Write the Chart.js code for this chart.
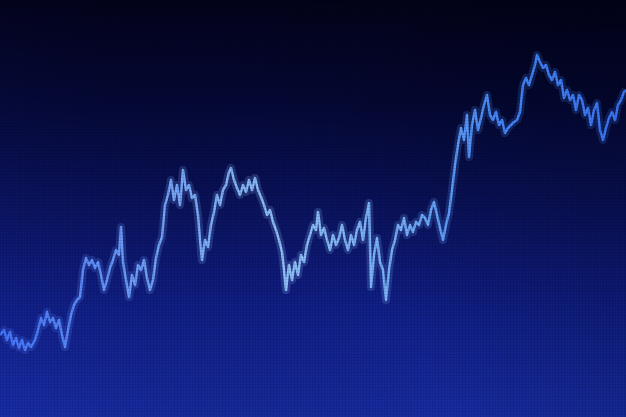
<!DOCTYPE html>
<html>
<head>
<meta charset="utf-8">
<script src="https://cdn.jsdelivr.net/npm/chart.js@4"></script>
<style>
html,body{margin:0;padding:0;background:#03031a;overflow:hidden;}
canvas{display:block;}
</style>
</head>
<body>
<canvas id="c" width="626" height="417"></canvas>
<script>
// Time positions (x, in chart units) and price line readings (y, measured from the top)
const times = [0,4,7,10,13,16,19,22,25,28,31,35,38,41,44,47,50,53,56,59,62,65,68,71,74,77,80,83,86,89,92,95,98,101,104,107,110,113,116,119,121,123,126,129,132,135,138,141,144,147,150,153,156,159,162,165,168,171,174,177,180,183,186,189,192,195,198,200,202,205,208,211,214,217,220,223,226,229,231,234,237,240,243,246,249,252,255,258,261,264,267,270,273,276,279,282,284,286,289,292,295,298,301,304,307,310,313,316,318,321,324,327,330,333,336,339,342,345,348,351,354,357,360,363,366,369,371,374,377,380,383,386,389,392,395,398,401,404,407,410,413,416,419,422,425,428,431,434,437,440,443,446,449,452,455,458,461,464,467,469,472,475,478,481,484,487,490,493,496,499,502,505,508,511,514,517,520,523,526,529,532,535,537,540,543,546,549,552,555,558,561,564,567,570,573,576,579,582,585,588,591,594,597,600,603,606,609,612,615,618,621,624,626];
const prices = [335,330,340,332,345,338,348,340,350,343,347,340,330,318,325,312,322,318,328,320,335,347,330,315,305,300,297,270,258,265,260,268,262,275,290,280,268,260,250,255,227,262,280,297,275,285,265,270,260,278,290,280,258,245,237,205,195,180,200,185,205,170,190,185,198,195,215,240,260,240,247,225,212,195,205,190,185,172,168,180,188,195,185,192,180,190,178,190,197,205,215,210,222,230,240,252,270,290,265,280,262,275,255,262,245,235,225,230,212,235,228,240,250,235,245,238,225,240,250,235,245,230,222,240,218,203,287,255,238,262,270,300,270,250,240,225,230,218,235,225,232,222,225,215,218,225,210,202,215,228,240,225,213,190,165,145,128,140,115,157,125,110,130,118,105,95,115,120,112,125,120,133,128,125,122,120,112,85,78,85,75,65,55,62,68,65,75,80,72,85,80,98,90,100,95,110,95,100,115,108,125,110,103,130,140,128,118,112,120,105,100,92,90];
const xRange = [0, 626];
const yRange = [0, 417];

const points = times.map((t, i) => ({x: t, y: prices[i]}));

function lineGradient(ctx, alpha) {
  const area = ctx.chart.chartArea;
  if (!area) return 'rgba(100,160,255,' + alpha + ')';
  const g = ctx.chart.ctx.createLinearGradient(area.left, 0, area.right, 0);
  g.addColorStop(0.0, 'rgba(70,120,255,' + alpha + ')');
  g.addColorStop(0.2, 'rgba(110,160,255,' + alpha + ')');
  g.addColorStop(0.45, 'rgba(150,200,255,' + alpha + ')');
  g.addColorStop(0.65, 'rgba(120,180,255,' + alpha + ')');
  g.addColorStop(0.8, 'rgba(70,140,255,' + alpha + ')');
  g.addColorStop(1.0, 'rgba(60,120,250,' + alpha + ')');
  return g;
}

const screenPlugin = {
  id: 'screen',
  beforeDraw(chart) {
    const {ctx, width, height} = chart;
    ctx.save();
    const g = ctx.createLinearGradient(0, 0, 0, height);
    g.addColorStop(0, '#03031a');
    g.addColorStop(0.25, '#050836');
    g.addColorStop(0.5, '#0a135e');
    g.addColorStop(0.75, '#11208a');
    g.addColorStop(1, '#182ca2');
    ctx.fillStyle = g;
    ctx.fillRect(0, 0, width, height);
    const h = ctx.createLinearGradient(0, height, width, 0);
    h.addColorStop(0, 'rgba(30,50,190,0.18)');
    h.addColorStop(0.5, 'rgba(0,0,0,0)');
    h.addColorStop(1, 'rgba(0,0,10,0.25)');
    ctx.fillStyle = h;
    ctx.fillRect(0, 0, width, height);
    ctx.restore();
  },
  afterDraw(chart) {
    const {ctx, width, height} = chart;
    ctx.save();
    ctx.fillStyle = 'rgba(0,0,20,0.09)';
    for (let x = 0; x < width; x += 3) ctx.fillRect(x, 0, 1, height);
    for (let y = 0; y < height; y += 3) ctx.fillRect(0, y, width, 1);
    ctx.restore();
  }
};

new Chart(document.getElementById('c'), {
  type: 'line',
  data: {
    datasets: [
      {
        data: points,
        borderColor: (ctx) => lineGradient(ctx, 0.2),
        borderWidth: 8,
        pointRadius: 0,
        tension: 0,
        borderJoinStyle: 'round'
      },
      {
        data: points,
        borderColor: (ctx) => lineGradient(ctx, 0.95),
        borderWidth: 2.5,
        pointRadius: 0,
        tension: 0,
        borderJoinStyle: 'round'
      }
    ]
  },
  options: {
    responsive: false,
    animation: false,
    layout: {padding: 0},
    plugins: {legend: {display: false}, tooltip: {enabled: false}},
    scales: {
      x: {type: 'linear', min: xRange[0], max: xRange[1], display: false},
      y: {type: 'linear', min: yRange[0], max: yRange[1], reverse: true, display: false}
    }
  },
  plugins: [screenPlugin]
});
</script>
</body>
</html>
